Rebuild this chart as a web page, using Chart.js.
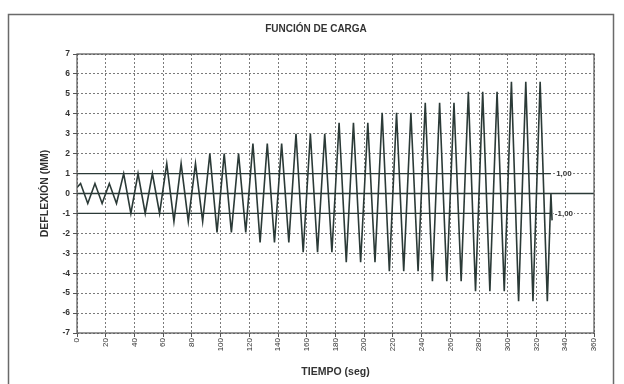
<!DOCTYPE html>
<html>
<head>
<meta charset="utf-8">
<script src="https://cdn.jsdelivr.net/npm/chart.js@4/dist/chart.umd.min.js"></script>
<style>
  html, body { margin: 0; padding: 0; background: #ffffff; }
  canvas { display: block; }
</style>
</head>
<body>
<canvas id="grafico" width="624" height="384"></canvas>
<script>
// Tiempo (s) de cada vértice de la señal triangular
const tiempo = [
  0, 2.5, 7.5, 12.5, 17.5, 22.5, 27.5, 32.5, 37.5, 42.5, 47.5, 52.5, 57.5,
  62.5, 67.5, 72.5, 77.5, 82.5, 87.5, 92.5, 97.5, 102.5, 107.5, 112.5, 117.5,
  122.5, 127.5, 132.5, 137.5, 142.5, 147.5, 152.5, 157.5, 162.5, 167.5, 172.5,
  177.5, 182.5, 187.5, 192.5, 197.5, 202.5, 207.5, 212.5, 217.5, 222.5, 227.5,
  232.5, 237.5, 242.5, 247.5, 252.5, 257.5, 262.5, 267.5, 272.5, 277.5, 282.5,
  287.5, 292.5, 297.5, 302.5, 307.5, 312.5, 317.5, 322.5, 327.5, 330, 330.8
];
// Deflexión (mm) en cada vértice: ciclos de carga crecientes de 0,5 mm cada tres ciclos
const deflexion = [
  0.3,
  0.5, -0.5, 0.5, -0.5, 0.5, -0.5,
  1.0, -1.0, 1.0, -1.0, 1.0, -1.0,
  1.5, -1.4, 1.5, -1.4, 1.5, -1.4,
  2.0, -1.95, 2.0, -1.95, 2.0, -1.95,
  2.5, -2.45, 2.5, -2.45, 2.5, -2.45,
  3.0, -2.95, 3.0, -2.95, 3.0, -2.95,
  3.55, -3.45, 3.55, -3.45, 3.55, -3.45,
  4.05, -3.9, 4.05, -3.9, 4.05, -3.9,
  4.55, -4.4, 4.55, -4.4, 4.55, -4.4,
  5.1, -4.9, 5.1, -4.9, 5.1, -4.9,
  5.6, -5.4, 5.6, -5.4, 5.6, -5.4,
  0, -1.35
];
// Límites de deflexión ±1,00 mm y eje cero
const limiteT = [0, 330];
const limiteSup = [1, 1];
const limiteInf = [-1, -1];
const ejeCeroT = [0, 360];
const ejeCero = [0, 0];
// Marcas de los ejes
const ticksTiempo = [0, 20, 40, 60, 80, 100, 120, 140, 160, 180, 200, 220, 240, 260, 280, 300, 320, 340, 360];
const ticksDeflexion = [-7, -6, -5, -4, -3, -2, -1, 0, 1, 2, 3, 4, 5, 6, 7];

const COLOR_LINEA = '#2b3a37';
const COLOR_TEXTO = '#333333';
const COLOR_REJILLA = '#7a7a7a';
const FUENTE = "'Liberation Sans', Arial, sans-serif";

const pares = (xs, ys) => xs.map((x, i) => ({ x, y: ys[i] }));

// Dibuja el marco, el borde del área de trazado y los rótulos girados del eje X
const decoracion = {
  id: 'decoracion',
  beforeDraw(chart) {
    const ctx = chart.ctx;
    ctx.save();
    ctx.fillStyle = '#ffffff';
    ctx.fillRect(0, 0, chart.width, chart.height);
    ctx.strokeStyle = '#6a6a6a';
    ctx.lineWidth = 1.5;
    ctx.strokeRect(8.5, 14.5, 605, 400);
    ctx.restore();
  },
  afterDraw(chart) {
    const ctx = chart.ctx;
    const a = chart.chartArea;
    const xs = chart.scales.x;
    const ys = chart.scales.y;
    ctx.save();
    // borde del área de trazado
    ctx.strokeStyle = '#555555';
    ctx.lineWidth = 1.2;
    ctx.strokeRect(a.left, a.top, a.right - a.left, a.bottom - a.top);
    // rótulos del eje X, leídos de abajo hacia arriba
    ctx.fillStyle = COLOR_TEXTO;
    ctx.font = '8px ' + FUENTE;
    ctx.textAlign = 'right';
    ctx.textBaseline = 'middle';
    ticksTiempo.forEach(v => {
      const px = xs.getPixelForValue(v);
      ctx.save();
      ctx.translate(px, a.bottom + 5);
      ctx.rotate(-Math.PI / 2);
      ctx.fillText(String(v), 0, 0);
      ctx.restore();
    });
    // etiquetas de los límites
    ctx.font = 'bold 8px ' + FUENTE;
    ctx.textAlign = 'center';
    const xEt = xs.getPixelForValue(limiteT[1]) + 13;
    [[limiteSup[1], '1,00'], [limiteInf[1], '-1,00']].forEach(([v, txt]) => {
      const py = ys.getPixelForValue(v);
      const w = ctx.measureText(txt).width;
      ctx.fillStyle = '#ffffff';
      ctx.fillRect(xEt - w / 2 - 1, py - 5, w + 2, 10);
      ctx.fillStyle = COLOR_TEXTO;
      ctx.fillText(txt, xEt, py);
    });
    ctx.restore();
  }
};

new Chart(document.getElementById('grafico'), {
  type: 'line',
  data: {
    datasets: [
      {
        label: 'Eje cero',
        data: pares(ejeCeroT, ejeCero),
        borderColor: COLOR_LINEA, borderWidth: 1.3, pointRadius: 0
      },
      {
        label: 'Límite superior',
        data: pares(limiteT, limiteSup),
        borderColor: COLOR_LINEA, borderWidth: 1.3, pointRadius: 0
      },
      {
        label: 'Límite inferior',
        data: pares(limiteT, limiteInf),
        borderColor: COLOR_LINEA, borderWidth: 1.3, pointRadius: 0
      },
      {
        label: 'Deflexión',
        data: pares(tiempo, deflexion),
        borderColor: COLOR_LINEA, borderWidth: 1.6, pointRadius: 0,
        tension: 0, borderJoinStyle: 'miter'
      }
    ]
  },
  options: {
    responsive: false,
    animation: false,
    events: [],
    layout: { padding: { left: 38, right: 30, top: 20, bottom: 0 } },
    plugins: {
      legend: { display: false },
      tooltip: { enabled: false },
      title: {
        display: true,
        text: 'FUNCIÓN DE CARGA',
        color: COLOR_TEXTO,
        font: { family: FUENTE, size: 10, weight: 'bold', lineHeight: 1.2 },
        padding: { top: 3, bottom: 19 }
      }
    },
    scales: {
      x: {
        type: 'linear',
        min: 0, max: 360,
        afterBuildTicks(s) { s.ticks = ticksTiempo.map(v => ({ value: v })); },
        afterFit(s) { s.height = 51; },
        ticks: { display: false },
        grid: { color: COLOR_REJILLA, lineWidth: 1, drawTicks: true, tickLength: 4, tickColor: '#555555' },
        border: { display: false, dash: [2, 2] },
        title: {
          display: true, text: 'TIEMPO (seg)', color: COLOR_TEXTO,
          font: { family: FUENTE, size: 10.5, weight: 'bold', lineHeight: 1.2 },
          padding: { top: 2, bottom: 5.7 }
        }
      },
      y: {
        type: 'linear',
        min: -7, max: 7,
        afterBuildTicks(s) { s.ticks = ticksDeflexion.map(v => ({ value: v })); },
        afterFit(s) { s.width = 39; },
        ticks: {
          color: COLOR_TEXTO, padding: 3,
          font: { family: FUENTE, size: 8.5, weight: 'bold' },
          callback: v => String(v)
        },
        grid: { color: COLOR_REJILLA, lineWidth: 1, drawTicks: true, tickLength: 4, tickColor: '#555555' },
        border: { display: false, dash: [2, 2] },
        title: {
          display: true, text: 'DEFLEXIÓN (MM)', color: COLOR_TEXTO,
          font: { family: FUENTE, size: 10.5, weight: 'bold', lineHeight: 1.2 },
          padding: { top: 0.7, bottom: 2 }
        }
      }
    }
  },
  plugins: [decoracion]
});
</script>
</body>
</html>
